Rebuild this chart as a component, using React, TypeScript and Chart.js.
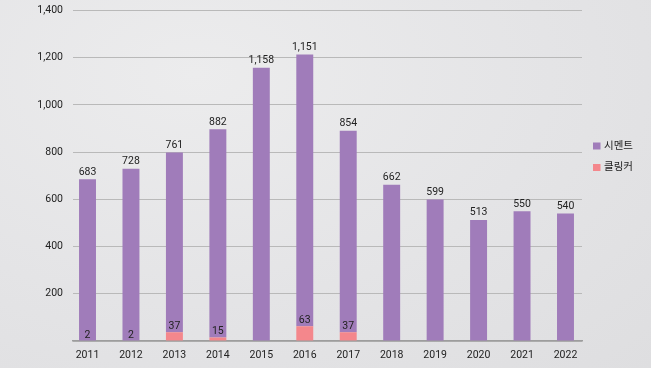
import React, { useEffect, useRef } from "react";
import { Chart, registerables } from "chart.js";

Chart.register(...registerables);

const years = ["2011", "2012", "2013", "2014", "2015", "2016", "2017", "2018", "2019", "2020", "2021", "2022"];
const cement = [683, 728, 761, 882, 1158, 1151, 854, 662, 599, 513, 550, 540];
const clinker = [2, 2, 37, 15, 0, 63, 37, 0, 0, 0, 0, 0];
const seriesNames = ["시멘트", "클링커"];
const seriesColors = ["#a07cba", "#f4878c"];
const yTicks = [0, 200, 400, 600, 800, 1000, 1200, 1400];

const FONT = "Roboto, 'Noto Sans CJK KR', sans-serif";
const fmt = (v: number) => v.toLocaleString("en-US");

const labelPlugin = {
  id: "barLabels",
  afterDatasetsDraw(chart: any) {
    const ctx = chart.ctx;
    ctx.save();
    ctx.font = `10.5px ${FONT}`;
    ctx.fillStyle = "#222";
    ctx.textAlign = "center";
    ctx.textBaseline = "alphabetic";
    chart.data.datasets.forEach((ds: any, di: number) => {
      const meta = chart.getDatasetMeta(di);
      meta.data.forEach((el: any, i: number) => {
        const v = ds.data[i].y;
        if (!v) return;
        const gap = ds.label === seriesNames[0] ? 4.5 : 3;
        ctx.fillText(fmt(v), el.x, el.y - gap);
      });
    });
    ctx.restore();
  },
};

const legendPlugin = {
  id: "sideLegend",
  afterDraw(chart: any) {
    const ctx = chart.ctx;
    ctx.save();
    ctx.font = `10.5px ${FONT}`;
    ctx.textBaseline = "middle";
    ctx.textAlign = "left";
    const x0 = chart.chartArea.right + 11;
    const yStart = 146;
    seriesNames.forEach((name, i) => {
      const y = yStart + i * 21.5;
      ctx.fillStyle = seriesColors[i];
      ctx.fillRect(x0, y - 3.5, 7.5, 7);
      ctx.fillStyle = "#222";
      ctx.fillText(name, x0 + 11, y);
    });
    ctx.restore();
  },
};

export default function App() {
  const ref = useRef<HTMLCanvasElement>(null);
  useEffect(() => {
    if (!ref.current) return;
    const chart = new Chart(ref.current, {
      type: "bar",
      data: {
        datasets: [
          {
            label: seriesNames[1],
            data: clinker.map((v, i) => ({ x: i, y: v })),
            backgroundColor: seriesColors[1],
            categoryPercentage: 1,
            barPercentage: 0.39,
          },
          {
            label: seriesNames[0],
            data: cement.map((v, i) => ({ x: i, y: v })),
            backgroundColor: seriesColors[0],
            categoryPercentage: 1,
            barPercentage: 0.39,
          },
        ],
      },
      options: {
        responsive: false,
        animation: false,
        devicePixelRatio: 1,
        layout: { padding: { top: 10.5, right: 69, bottom: 0, left: 0 } },
        plugins: { legend: { display: false }, tooltip: { enabled: false } },
        scales: {
          x: {
            type: "linear",
            stacked: true,
            offset: false,
            min: -0.334,
            max: 11.38,
            afterBuildTicks: (scale: any) => {
              scale.ticks = years.map((_, i) => ({ value: i }));
            },
            afterFit: (scale: any) => {
              scale.height = 27;
            },
            grid: { display: false, drawTicks: false },
            border: { display: true, color: "#9d9d9d", width: 1.5 },
            ticks: {
              padding: 8,
              color: "#222",
              font: { family: FONT, size: 10.5 },
              maxRotation: 0,
              autoSkip: false,
              callback: (v: any) => years[v as number] ?? "",
            },
          },
          y: {
            stacked: true,
            min: 0,
            max: 1400,
            afterBuildTicks: (scale: any) => {
              scale.ticks = yTicks.map((v) => ({ value: v }));
            },
            afterFit: (scale: any) => {
              scale.width = 73;
              scale.paddingTop = 0;
              scale.paddingBottom = 0;
            },
            grid: { color: "#b9b9b9", lineWidth: 1, drawTicks: false },
            border: { display: false },
            ticks: {
              padding: 10,
              color: "#222",
              font: { family: FONT, size: 10.5 },
              callback: (v: any) => (v === 0 ? "" : fmt(v as number)),
            },
          },
        },
      },
      plugins: [labelPlugin, legendPlugin],
    } as any);
    return () => chart.destroy();
  }, []);
  return (
    <div
      style={{
        position: "fixed",
        left: 0,
        top: 0,
        width: 651,
        height: 368,
        background:
          "radial-gradient(ellipse at 30% 20%, #ececed 0%, #e4e4e6 55%, #dedee0 100%)",
      }}
    >
      <canvas ref={ref} width={651} height={368} style={{ display: "block" }} />
    </div>
  );
}
